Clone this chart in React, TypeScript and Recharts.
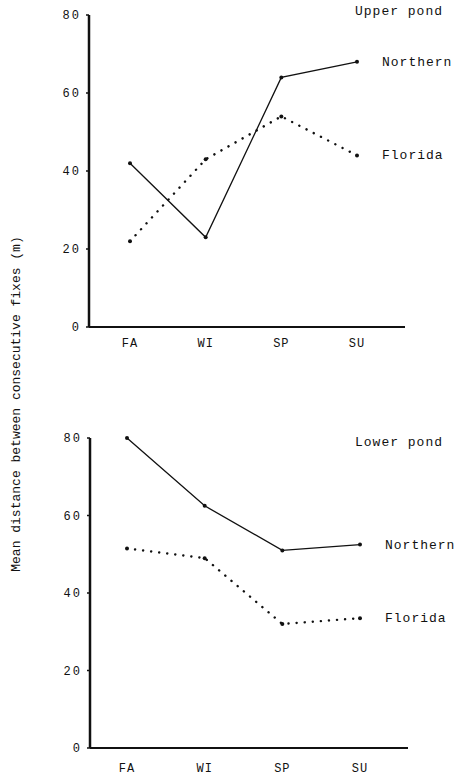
import { LineChart, Line, XAxis, YAxis, LabelList } from 'recharts';

const seasons = ['FA', 'WI', 'SP', 'SU'];
const upperNorthern = [42, 23, 64, 68];
const upperFlorida = [22, 43, 54, 44];
const lowerNorthern = [80, 62.5, 51, 52.5];
const lowerFlorida = [51.5, 49, 32, 33.5];
const yTicks = [0, 20, 40, 60, 80];

const mono = '"Liberation Mono", "DejaVu Sans Mono", monospace';

const build = (northern: number[], florida: number[]) =>
  seasons.map((s, i) => ({ season: s, northern: northern[i], florida: florida[i] }));

const endLabel = (name: string) => (props: any) => {
  const { x, y, index } = props;
  if (index !== seasons.length - 1) return null;
  return (
    <text x={x + 25} y={y + 4} fontFamily={mono} fontSize={13} letterSpacing={1} fill="#111">
      {name}
    </text>
  );
};

interface PanelProps {
  northern: number[];
  florida: number[];
  height: number;
  margin: { top: number; right: number; left: number; bottom: number };
  yWidth: number;
  padding: { left: number; right: number };
  xTickGap: number;
}

function Panel({ northern, florida, height, margin, yWidth, padding, xTickGap }: PanelProps) {
  const data = build(northern, florida);
  return (
    <LineChart width={454} height={height} data={data} margin={margin}>
      <XAxis
        dataKey="season"
        padding={padding}
        axisLine={{ stroke: '#111', strokeWidth: 2 }}
        tickLine={false}
        tick={{ fill: '#111', fontFamily: mono, fontSize: 12, letterSpacing: 1 }}
        tickMargin={xTickGap}
      />
      <YAxis
        width={yWidth}
        domain={[0, 80]}
        ticks={yTicks}
        axisLine={{ stroke: '#111', strokeWidth: 2.5 }}
        tickLine={{ stroke: '#111', strokeWidth: 1.5 }}
        tickSize={3}
        tickMargin={5}
        tick={{ fill: '#111', fontFamily: mono, fontSize: 12, letterSpacing: 2 }}
      />
      <Line
        dataKey="northern"
        stroke="#111"
        strokeWidth={1.3}
        dot={{ r: 2, fill: '#111', stroke: 'none' }}
        isAnimationActive={false}
      >
        <LabelList dataKey="northern" content={endLabel('Northern')} />
      </Line>
      <Line
        dataKey="florida"
        stroke="#111"
        strokeWidth={2.4}
        strokeLinecap="round"
        strokeDasharray="0.1 8"
        dot={{ r: 2, fill: '#111', stroke: 'none' }}
        isAnimationActive={false}
      >
        <LabelList dataKey="florida" content={endLabel('Florida')} />
      </Line>
    </LineChart>
  );
}

export default function App() {
  const textStyle = {
    position: 'absolute' as const,
    fontFamily: mono,
    fontSize: 13,
    letterSpacing: 1,
    color: '#111',
    whiteSpace: 'nowrap' as const,
  };
  return (
    <div style={{ position: 'absolute', left: 0, top: 0, width: 454, height: 778, background: '#fff' }}>
      <div style={{ position: 'absolute', left: 0, top: 0 }}>
        <Panel
          northern={upperNorthern}
          florida={upperFlorida}
          height={380}
          margin={{ top: 15, right: 49, left: 0, bottom: 23 }}
          yWidth={89}
          padding={{ left: 41, right: 48 }}
          xTickGap={5}
        />
      </div>
      <div style={{ position: 'absolute', left: 0, top: 380 }}>
        <Panel
          northern={lowerNorthern}
          florida={lowerFlorida}
          height={398}
          margin={{ top: 58, right: 46, left: 0, bottom: 0 }}
          yWidth={90}
          padding={{ left: 37, right: 48 }}
          xTickGap={9}
        />
      </div>
      <div style={{ ...textStyle, left: 355, top: 4 }}>Upper pond</div>
      <div style={{ ...textStyle, left: 355, top: 435 }}>Lower pond</div>
      <svg width={40} height={778} style={{ position: 'absolute', left: 0, top: 0 }}>
        <text
          x={20}
          y={404}
          transform="rotate(-90 20 404)"
          textAnchor="middle"
          fontFamily={mono}
          fontSize={13}
          fill="#111"
        >
          Mean distance between consecutive fixes (m)
        </text>
      </svg>
    </div>
  );
}
